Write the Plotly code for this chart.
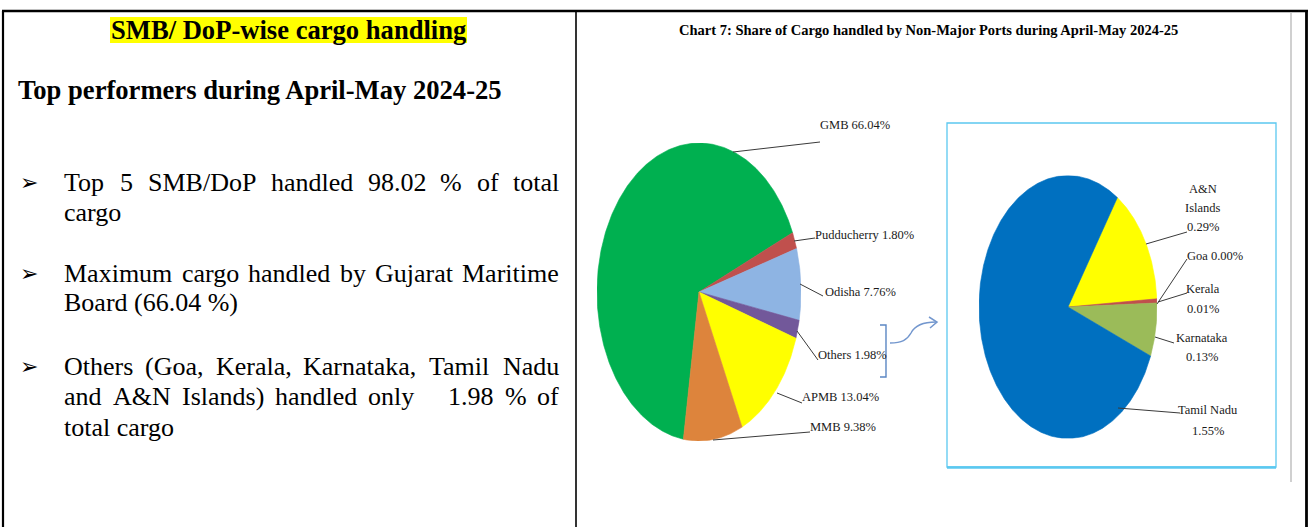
import math
import plotly.graph_objects as go

W, H = 1312, 527

# ---------------- data ----------------
main_labels = ["GMB", "Pudducherry", "Odisha", "Others", "APMB", "MMB"]
main_values = [66.04, 1.80, 7.76, 1.98, 13.04, 9.38]
main_colors = ["#00B050", "#C0504D", "#8EB4E3", "#72589A", "#FFFF00", "#DD843C"]

sub_labels = ["A&N Islands", "Goa", "Kerala", "Karnataka", "Tamil Nadu"]
sub_values = [0.29, 0.00, 0.01, 0.13, 1.55]
sub_colors = ["#FFFF00", "#E46C0A", "#C0504D", "#9BBB59", "#0070C0"]

chart_title = "Chart 7: Share of Cargo handled by Non-Major Ports during April-May 2024-25"
panel_title = "SMB/ DoP-wise cargo handling"
panel_heading = "Top performers during April-May 2024-25"
bullets = [
    ["Top 5 SMB/DoP handled 98.02 % of total", "cargo"],
    ["Maximum cargo handled by Gujarat Maritime", "Board (66.04 %)"],
    ["Others (Goa, Kerala, Karnataka, Tamil Nadu", "and A&N Islands) handled only   1.98 % of", "total cargo"],
]

# ---------------- helpers ----------------
def px(x):
    return x / W


def py(y):
    return 1 - y / H


AFM = {' ': 250, '!': 333, '%': 833, '&': 778, '(': 333, ')': 333, ',': 250, '-': 333, '.': 250,
       '/': 278, ':': 278}
for d in "0123456789":
    AFM[d] = 500
AFM.update(dict(A=722, B=667, C=667, D=722, E=611, F=556, G=722, H=722, I=333, J=389, K=722, L=611,
                M=889, N=722, O=722, P=556, Q=722, R=667, S=556, T=611, U=722, V=722, W=944, X=722,
                Y=722, Z=611, a=444, b=500, c=444, d=500, e=444, f=333, g=500, h=500, i=278, j=278,
                k=500, l=278, m=778, n=500, o=500, p=500, q=500, r=333, s=389, t=278, u=500, v=500,
                w=722, x=500, y=500, z=444))


def tw(s, size):
    return sum(AFM.get(c, 500) for c in s) / 1000 * size


annotations = []
shapes = []


def add_text(text, x, y, size, xanchor="left", bold=False, family="Liberation Serif", color="#000000"):
    annotations.append(dict(
        text=("<b>%s</b>" % text) if bold else text,
        x=px(x), y=py(y), xref="paper", yref="paper", xanchor=xanchor, yanchor="middle",
        showarrow=False, borderpad=0, borderwidth=0,
        font=dict(family=family, size=size, color=color)))


def add_line(x0, y0, x1, y1, color="#000000", width=1.0):
    shapes.append(dict(type="line", xref="paper", yref="paper", x0=px(x0), y0=py(y0),
                       x1=px(x1), y1=py(y1), line=dict(color=color, width=width)))


def add_path(points_cmds, color, width):
    # points_cmds: list of (cmd, [x,y,...]) in pixel units, one command per segment
    parts = []
    for cmd, pts in points_cmds:
        coords = []
        for i in range(0, len(pts), 2):
            coords.append("%.5f,%.5f" % (px(pts[i]), py(pts[i + 1])))
        parts.append(cmd + " " + " ".join(coords))
    shapes.append(dict(type="path", xref="paper", yref="paper", path=" ".join(parts),
                       line=dict(color=color, width=width)))


def justified(line, y, x0, x1, size):
    toks = line.split(" ")
    widths = [tw(t, size) for t in toks]
    gap = (x1 - x0 - sum(widths)) / (len(toks) - 1)
    x = x0
    for t, w in zip(toks, widths):
        if t:
            add_text(t, x, y, size)
        x += w + gap


def wedges(values, colors, labels, start_deg, xa, ya):
    traces = []
    total = sum(values)
    a = start_deg
    for v, c, lab in zip(values, colors, labels):
        span = v / total * 360.0
        if span <= 0:
            continue
        n = max(3, int(span * 2))
        xs, ys = [0.0], [0.0]
        for k in range(n + 1):
            t = math.radians(a + span * k / n)
            xs.append(math.sin(t))
            ys.append(math.cos(t))
        xs.append(0.0)
        ys.append(0.0)
        traces.append(go.Scatter(x=xs, y=ys, xaxis=xa, yaxis=ya, mode="lines", fill="toself",
                                 fillcolor=c, line=dict(color=c, width=0.6),
                                 name=lab, text="%s %.2f%%" % (lab, v), hoveron="fills",
                                 hoverinfo="text", showlegend=False))
        a += span
    return traces


# ---------------- pies (ellipses, as on the page scan) ----------------
fig = go.Figure()
for tr in wedges(main_values, main_colors, main_labels, 188.8, "x", "y"):
    fig.add_trace(tr)
for tr in wedges(sub_values, sub_colors, sub_labels, 33.7, "x2", "y2"):
    fig.add_trace(tr)

ax_common = dict(visible=False, range=[-1, 1], fixedrange=True)
fig.update_layout(
    xaxis=dict(domain=[px(699 - 102), px(699 + 102)], anchor="y", **ax_common),
    yaxis=dict(domain=[py(292 + 149), py(292 - 149)], anchor="x", **ax_common),
    xaxis2=dict(domain=[px(1068 - 89), px(1068 + 89)], anchor="y2", **ax_common),
    yaxis2=dict(domain=[py(307 + 131.5), py(307 - 131.5)], anchor="x2", **ax_common),
)

# ---------------- page frame ----------------
add_line(2, 11, 1308, 11, width=2.5)
add_line(3, 11, 3, 527, width=2.2)
add_line(576, 11, 576, 527, width=1.6)
add_line(1306.5, 11, 1306.5, 527, width=2.8)
add_line(1291, 13, 1291, 482, color="#D0D0D0", width=2)

# ---------------- left panel ----------------
shapes.append(dict(type="rect", xref="paper", yref="paper", x0=px(110), x1=px(467), y0=py(43), y1=py(17),
                   fillcolor="#FFFF00", line=dict(width=0), layer="below"))
add_text(panel_title, 288.5, 30, 26.6, xanchor="center", bold=True)
add_text(panel_heading, 18, 90, 26.6, bold=True)

body_size = 26
line_y = [[183, 212], [273, 302], [366, 396, 427]]
for para, ys in zip(bullets, line_y):
    add_text("\u27a2", 20, ys[0], 22, family="DejaVu Sans", bold=True)
    for i, (ln, yy) in enumerate(zip(para, ys)):
        if i < len(para) - 1:
            justified(ln, yy, 64, 559, body_size)
        else:
            add_text(ln, 64, yy, body_size)

# ---------------- right panel ----------------
add_text(chart_title, 928, 30, 14.5, xanchor="center", bold=True)

lab_size = 12.5
lab_col = "#1A1A1A"
lead_col = "#3A3A3A"
main_fmt = ["%s %.2f%%" % (l, v) for l, v in zip(main_labels, main_values)]
main_pos = [(820, 125), (815, 235), (825, 292), (818, 355), (802, 397), (810, 427)]
main_lead = [(733, 152, 820, 142), (794, 241, 815, 238), (800, 284, 823, 296),
             (797, 331, 818, 360), (777, 393, 802, 403), (713, 440, 810, 432)]
for t, (x, y), ld in zip(main_fmt, main_pos, main_lead):
    add_text(t, x, y, lab_size, color=lab_col)
    add_line(*ld, color=lead_col, width=1)

# zoom box
shapes.append(dict(type="rect", xref="paper", yref="paper", x0=px(947), x1=px(1276), y0=py(467), y1=py(123),
                   line=dict(color="#5BC8F0", width=1.3)))
add_line(947, 467.5, 1276, 467.5, color="#5BC8F0", width=2.5)

# bracket and curved arrow
add_path([("M", [880, 325]), ("L", [886, 325]), ("L", [886, 377]), ("L", [880, 377])], "#5B86C3", 1.4)
add_path([("M", [890, 343]), ("C", [902, 343, 907, 340, 911, 333]), ("C", [915, 325, 924, 322, 936, 322])],
         "#7397CE", 1.5)
add_path([("M", [929, 317]), ("L", [937, 322]), ("L", [930, 328])], "#7397CE", 1.5)

# sub pie labels
sub_text = {
    "A&N Islands": (["A&N", "Islands", "%.2f%%" % sub_values[0]], 1203, [189, 208, 227], "center"),
    "Goa": (["Goa %.2f%%" % sub_values[1]], 1187, [256], "left"),
    "Kerala": (["Kerala", "%.2f%%" % sub_values[2]], 1203, [289, 309], "center"),
    "Karnataka": (["Karnataka", "%.2f%%" % sub_values[3]], 1202, [338, 357], "center"),
    "Tamil Nadu": (["Tamil Nadu", "%.2f%%" % sub_values[4]], 1208, [410, 431], "center"),
}
sub_lead = {
    "A&N Islands": (1146, 244, 1187, 232),
    "Goa": (1157, 304, 1187, 259),
    "Kerala": (1158, 302, 1187, 293),
    "Karnataka": (1155, 337, 1174, 343),
    "Tamil Nadu": (1118, 408, 1180, 413),
}
for lab in sub_labels:
    lines, x, ys, anc = sub_text[lab]
    for ln, yy in zip(lines, ys):
        add_text(ln, x, yy, lab_size, xanchor=anc, color=lab_col)
    add_line(*sub_lead[lab], color=lead_col, width=1)

fig.update_layout(
    width=W, height=H, margin=dict(l=0, r=0, t=0, b=0, pad=0),
    paper_bgcolor="#FFFFFF", plot_bgcolor="rgba(0,0,0,0)",
    showlegend=False, annotations=annotations, shapes=shapes,
)

fig.write_html("out.html", config={"displayModeBar": False},
               post_script="document.body.style.margin='0';document.body.style.overflow='hidden';")
